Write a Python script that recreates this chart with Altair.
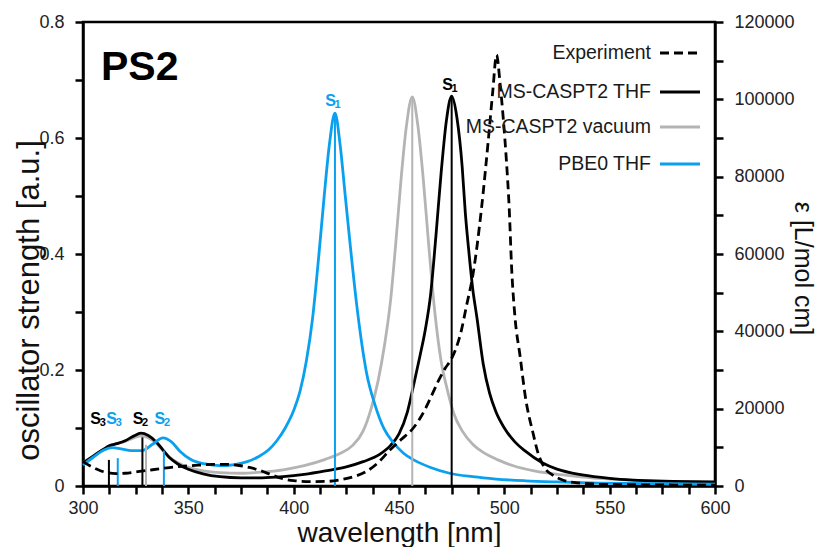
import altair as alt
import pandas as pd

BLUE = "#0aa0f0"
GRAY = "#b4b4b4"
BLACK = "#000000"
FONT = "Liberation Sans"

# ---- PBE0 THF (blue), oscillator strength ----
pbe0_wl = [300, 305, 310, 314, 318, 323, 328, 333, 338, 342, 346, 351, 358, 365, 372, 378, 383, 388,
           392, 396, 400, 403, 406, 409, 412, 414.5, 417, 419.6, 422, 424.5, 427, 430, 434.6, 438.6,
           443, 447.3, 452, 457, 465, 474, 485, 496, 510, 525, 545, 570, 600]
pbe0_f = [0.036, 0.050, 0.062, 0.066, 0.064, 0.061, 0.061, 0.072, 0.083, 0.076, 0.060, 0.046, 0.038,
          0.035, 0.037, 0.042, 0.050, 0.062, 0.078, 0.100, 0.130, 0.163, 0.215, 0.290, 0.400, 0.500,
          0.590, 0.643, 0.590, 0.500, 0.410, 0.310, 0.195, 0.140, 0.098, 0.075, 0.057, 0.045, 0.032,
          0.022, 0.016, 0.012, 0.009, 0.007, 0.005, 0.004, 0.003]

# ---- MS-CASPT2 vacuum (gray) ----
vac_wl = [300, 305, 310, 313, 316, 320, 324, 328, 331, 335, 338, 341, 345, 350, 357, 365, 375, 385,
          395, 405, 415, 422, 428, 433, 436.5, 440, 443, 446, 448.5, 451, 453.5, 456.3, 459, 461.5,
          464, 467, 470, 473, 476, 480, 485, 490, 497, 505, 513, 521, 533, 545, 560, 580, 600]
vac_f = [0.040, 0.052, 0.064, 0.070, 0.073, 0.077, 0.083, 0.087, 0.083, 0.073, 0.061, 0.050, 0.040,
         0.032, 0.026, 0.023, 0.022, 0.024, 0.028, 0.035, 0.046, 0.056, 0.070, 0.095, 0.130, 0.180,
         0.240, 0.320, 0.420, 0.530, 0.620, 0.671, 0.620, 0.530, 0.420, 0.300, 0.215, 0.165, 0.125,
         0.095, 0.072, 0.058, 0.045, 0.034, 0.027, 0.022, 0.017, 0.013, 0.010, 0.007, 0.005]

# ---- MS-CASPT2 THF (black) ----
thf_wl = [300, 305, 310, 313, 316, 320, 324, 327.5, 331, 335, 338, 341, 345, 350, 357, 365, 375, 385,
          395, 405, 415, 425, 433, 441, 446, 450, 454, 457, 460, 462.5, 465, 467.5, 470, 472.5, 475,
          477.5, 480, 481.5, 483, 485, 487, 490, 493, 496, 500, 505, 510, 518, 525, 537, 550, 561,
          580, 600]
thf_f = [0.040, 0.052, 0.064, 0.070, 0.073, 0.078, 0.086, 0.091, 0.087, 0.075, 0.062, 0.049, 0.038,
         0.029, 0.021, 0.016, 0.014, 0.014, 0.016, 0.020, 0.026, 0.033, 0.042, 0.055, 0.070, 0.090,
         0.128, 0.175, 0.225, 0.270, 0.330, 0.430, 0.540, 0.630, 0.672, 0.635, 0.550, 0.470, 0.410,
         0.340, 0.290, 0.210, 0.160, 0.128, 0.100, 0.076, 0.060, 0.040, 0.029, 0.019, 0.013, 0.010,
         0.008, 0.007]

# ---- Experiment (dashed), epsilon [L/mol cm] ----
exp_wl = [300, 304, 308, 312, 316, 320, 326, 333, 340, 347, 355, 362, 368, 374, 379, 384, 389, 394,
          400, 408, 416, 423, 429, 434, 440, 445.7, 451, 456.8, 460, 463, 466, 469, 472, 474.5, 477,
          479.5, 482, 485.2, 489.2, 492.4, 494.5, 496.3, 498, 499.5, 501, 502.3, 503.5, 505, 507.5,
          510, 513.7, 516, 519, 523, 528, 535, 545, 560, 580, 600]
exp_eps = [6300, 5000, 4000, 3400, 3200, 3300, 3700, 4200, 4700, 5100, 5400, 5600, 5600, 5300, 4800,
           4000, 3000, 2000, 1400, 1150, 1200, 1700, 2500, 3600, 6000, 9300, 12000, 15000, 17500,
           20500, 24000, 27500, 30500, 32500, 35500, 40000, 46500, 55000, 72000, 89500, 102000,
           111500, 104000, 95000, 84000, 72000, 56000, 44000, 33500, 23000, 13500, 8500, 4800, 2800,
           1500, 800, 500, 350, 250, 200]

# ---- stick spectra ----
stick_wl = [312.3, 316.5, 328.2, 329.9, 338.4, 419.6, 456.3, 475.0]
stick_f = [0.045, 0.048, 0.084, 0.071, 0.061, 0.643, 0.671, 0.672]
stick_color = [BLACK, BLUE, BLACK, GRAY, BLUE, BLUE, GRAY, BLACK]

# ---- state labels ----
lab_wl = [306.0, 313.6, 326.1, 336.5, 417.5, 473.0]
lab_f = [0.107, 0.107, 0.107, 0.107, 0.655, 0.683]
lab_sub = ["3", "3", "2", "2", "1", "1"]
lab_color = [BLACK, BLUE, BLACK, BLUE, BLUE, BLACK]

# ---- legend ----
leg_labels = ["Experiment", "MS-CASPT2 THF", "MS-CASPT2 vacuum", "PBE0 THF"]
leg_colors = [BLACK, BLACK, GRAY, BLUE]
leg_dash = [[9, 5], [1, 0], [1, 0], [1, 0]]
leg_rows = [31, 70, 105, 142]

x_ticks = [300 + 12.5 * i for i in range(25)]
left_ticks = [0, 0.1, 0.2, 0.3, 0.4, 0.5, 0.6, 0.7, 0.8]
right_ticks = list(range(0, 120001, 10000))

x_enc = alt.X("wl:Q", scale=alt.Scale(domain=[300, 600], nice=False, zero=False, padding=0),
              axis=alt.Axis(values=x_ticks, labelExpr="datum.value % 50 === 0 ? datum.label : ''",
                            title="wavelength [nm]", titleFontSize=28, titleY=55,
                            titleBaseline="alphabetic", titleAlign="center",
                            labelPadding=5, format="d", labelFlush=False))
y_left = alt.Y("f:Q", scale=alt.Scale(domain=[0, 0.8], nice=False, padding=0),
               axis=alt.Axis(orient="left", values=left_ticks, labelFlush=False,
                             labelExpr="round(datum.value*10) % 2 === 0 ? (datum.value === 0 ? '0' : format(datum.value, '.1f')) : ''",
                             title="oscillator strength [a.u.]", titleFontSize=31,
                             titleX=-54, titleY=278, titleAngle=-90, titleBaseline="middle",
                             titleAlign="center", labelPadding=11))

def curve(wl, f, color):
    df = pd.DataFrame({"wl": wl, "f": f})
    return alt.Chart(df).mark_line(color=color, strokeWidth=2.8, interpolate="monotone").encode(
        x=x_enc, y=y_left)

sticks = alt.Chart(pd.DataFrame({"wl": stick_wl, "f": stick_f, "c": stick_color})).mark_rule(
    strokeWidth=2).encode(x=x_enc, y=y_left, y2=alt.datum(0), color=alt.Color("c:N", scale=None))

lab_df = pd.DataFrame({"wl": lab_wl, "f": lab_f, "sub": lab_sub, "c": lab_color, "s": ["S"] * 6})
lab_S = alt.Chart(lab_df).mark_text(font=FONT, fontSize=16, fontWeight="bold", align="center",
                                    baseline="alphabetic").encode(
    x=x_enc, y=y_left, text="s:N", color=alt.Color("c:N", scale=None))
lab_sub_t = alt.Chart(lab_df).mark_text(font=FONT, fontSize=11, fontWeight="bold", align="left",
                                        baseline="alphabetic", dx=4, dy=2).encode(
    x=x_enc, y=y_left, text="sub:N", color=alt.Color("c:N", scale=None))

left = alt.layer(curve(vac_wl, vac_f, GRAY), curve(thf_wl, thf_f, BLACK),
                 curve(pbe0_wl, pbe0_f, BLUE), sticks, lab_S, lab_sub_t)

exp = alt.Chart(pd.DataFrame({"wl": exp_wl, "eps": exp_eps})).mark_line(
    color=BLACK, strokeWidth=2.8, strokeDash=[9, 5], interpolate="monotone").encode(
    x=x_enc,
    y=alt.Y("eps:Q", scale=alt.Scale(domain=[0, 120000], nice=False, padding=0),
            axis=alt.Axis(orient="right", values=right_ticks, format="d", labelFlush=False,
                          labelExpr="datum.value % 20000 === 0 ? datum.label : ''",
                          title="ε [L/mol cm]", titleFontSize=25, titleAngle=90,
                          titleX=87, titleY=246, titleBaseline="middle", titleAlign="center",
                          labelPadding=11)))

legend_layers = []
for lab, col, dash, row in zip(leg_labels, leg_colors, leg_dash, leg_rows):
    d = pd.DataFrame({"t": [lab]})
    legend_layers.append(alt.Chart(d).mark_text(font=FONT, fontSize=19.5, align="right",
                                                baseline="middle", color="#1a1a1a").encode(
        text="t:N", x=alt.value(568), y=alt.value(row)))
    legend_layers.append(alt.Chart(d).mark_rule(color=col, strokeWidth=3, strokeDash=dash).encode(
        x=alt.value(577), x2=alt.value(617), y=alt.value(row)))

ps2 = alt.Chart(pd.DataFrame({"t": ["PS2"]})).mark_text(
    font=FONT, fontSize=41, fontWeight="bold", align="left", baseline="alphabetic",
    color="#000000").encode(text="t:N", x=alt.value(18), y=alt.value(58))

chart = alt.layer(left, exp, ps2, *legend_layers).resolve_scale(y="independent").properties(
    width=632, height=464, autosize=alt.AutoSizeParams(type="none"),
    padding={"left": 75, "top": 14, "right": 103, "bottom": 61},
    background="white"
).configure_view(stroke="#000000", strokeWidth=2.5).configure_axis(
    labelFont=FONT, titleFont=FONT, labelFontSize=18, labelColor="#222222",
    titleColor="#111111", titleFontWeight="normal", domainColor="#000000", domainWidth=2.5,
    tickColor="#000000", tickWidth=2.5, tickSize=8, grid=False
)

chart.save("out.html", embed_options={"renderer": "svg", "actions": False})
